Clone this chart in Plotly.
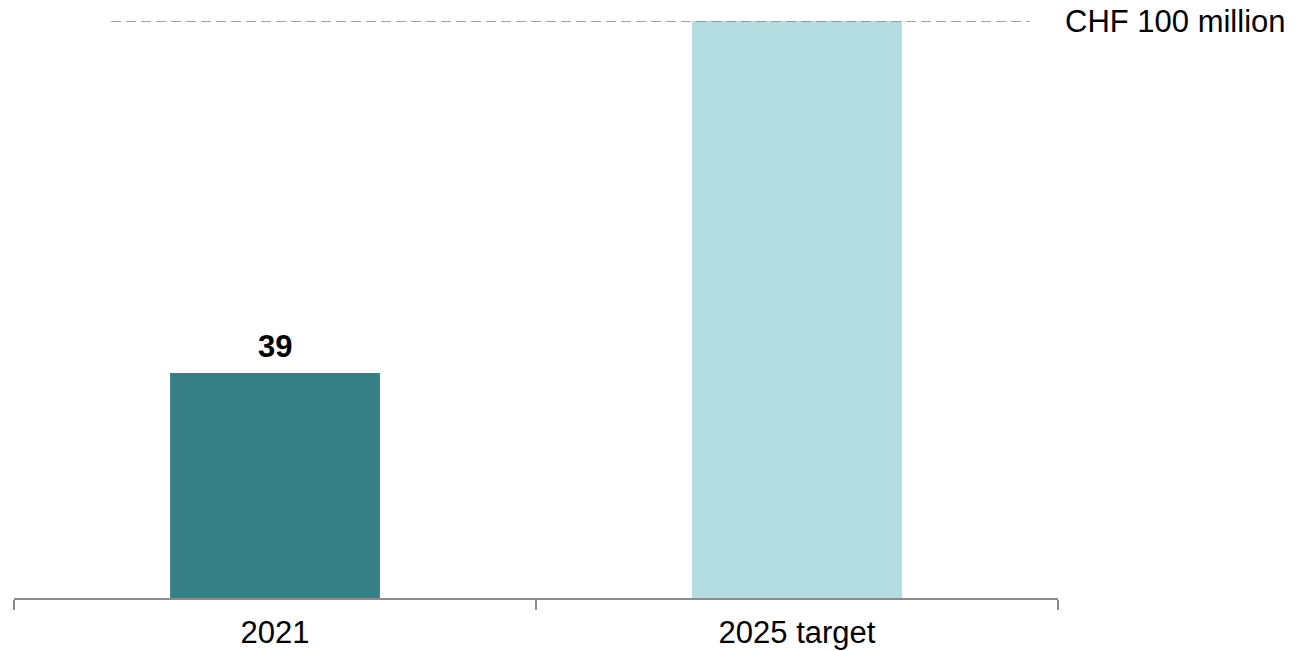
import plotly.graph_objects as go

# Chart data
categories = ["2021", "2025 target"]
values = [39, 100]
bar_colors = ["#367f84", "#b3dde0"]
target_value = 100
target_label = "CHF 100 million"
value_labels = ["39", ""]

FONT = "Arial, Liberation Sans, sans-serif"
TEXT_SIZE = 31

fig = go.Figure()

fig.add_trace(go.Bar(
    x=categories,
    y=values,
    marker=dict(color=bar_colors, line=dict(width=0)),
    width=0.402,
    hoverinfo="skip",
))

# Value label above the first bar (category index used as x position)
for idx, (val, lab) in enumerate(zip(values, value_labels)):
    if lab:
        fig.add_annotation(
            x=idx, y=val, xref="x", yref="y",
            text=f"<b>{lab}</b>", showarrow=False,
            yanchor="bottom", yshift=7,
            font=dict(family=FONT, size=TEXT_SIZE, color="#000000"),
        )

# Dashed target line with its label
fig.add_shape(
    type="line", xref="paper", yref="y",
    x0=0.093, x1=0.973, y0=target_value, y1=target_value,
    line=dict(color="#858585", width=1.6, dash="10px,5px"),
)
fig.add_annotation(
    x=1.0045, y=target_value, xref="paper", yref="y",
    text=target_label, showarrow=False,
    xanchor="left", yanchor="middle",
    font=dict(family=FONT, size=TEXT_SIZE, color="#000000"),
)

fig.update_layout(
    width=1296, height=651,
    margin=dict(l=14, r=238, t=21, b=53, autoexpand=False),
    paper_bgcolor="white", plot_bgcolor="white",
    showlegend=False,
    xaxis=dict(
        type="category", automargin=False,
        range=[-0.5, 1.5],
        showline=True, linecolor="#8c8c8c", linewidth=2,
        ticks="outside", tickson="boundaries", ticklen=10,
        tickcolor="#8c8c8c", tickwidth=2,
        tickangle=0, ticklabelstandoff=6,
        tickfont=dict(family=FONT, size=TEXT_SIZE, color="#000000"),
        showgrid=False, zeroline=False,
    ),
    yaxis=dict(
        range=[0, 100], visible=False, showgrid=False, zeroline=False,
        automargin=False,
    ),
)

fig.write_html("out.html")
